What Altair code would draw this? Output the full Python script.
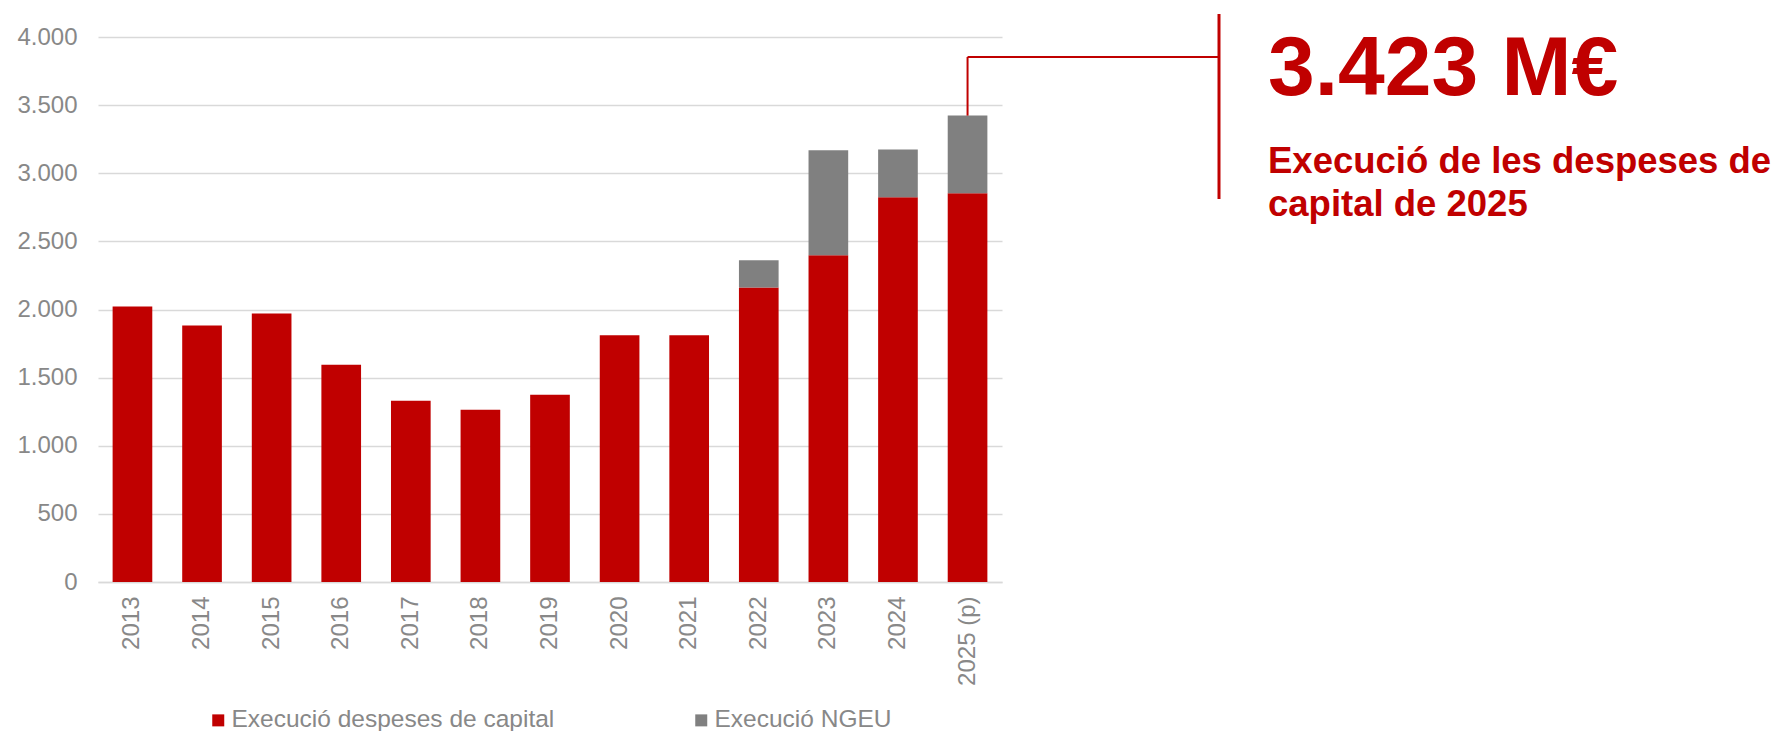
import altair as alt
import pandas as pd

years = ["2013", "2014", "2015", "2016", "2017", "2018", "2019",
         "2020", "2021", "2022", "2023", "2024", "2025 (p)"]
capital = [2022, 1883, 1971, 1594, 1330, 1264, 1374, 1811, 1811, 2161, 2399, 2824, 2854]
ngeu = [0, 0, 0, 0, 0, 0, 0, 0, 0, 200, 770, 350, 569]
series = ["Execució despeses de capital", "Execució NGEU"]
colors = ["#c00000", "#808080"]
y_ticks = [0, 500, 1000, 1500, 2000, 2500, 3000, 3500, 4000]
subtitle = ["Execució de les despeses de", "capital de 2025"]

rows = []
for y, c, n in zip(years, capital, ngeu):
    rows.append({"year": y, "series": series[0], "value": c, "ord": 0})
    if n > 0:
        rows.append({"year": y, "series": series[1], "value": n, "ord": 1})
df = pd.DataFrame(rows)

last_total = capital[-1] + ngeu[-1]
big_label = f"{last_total:,}".replace(",", ".") + " M€"
ann = pd.DataFrame({"year": [years[-1]], "total": [last_total]})
one = pd.DataFrame({"k": [0]})

FONT = "Liberation Sans"
RED = "#c00000"
GREY_TXT = "#888888"

x_enc = alt.X("year:N", sort=years,
              scale=alt.Scale(paddingInner=0.43, paddingOuter=0.21),
              axis=alt.Axis(title=None, labelAngle=-90, labelFontSize=24,
                            labelColor=GREY_TXT, labelPadding=14, ticks=False,
                            domainColor="#d9d9d9", domainWidth=1.5, grid=False))

bars = alt.Chart(df).mark_bar(strokeWidth=0).encode(
    x=x_enc,
    y=alt.Y("value:Q", stack="zero",
            scale=alt.Scale(domain=[0, 4000], nice=False),
            axis=alt.Axis(title=None, values=y_ticks, labelFontSize=24,
                          labelColor=GREY_TXT, labelPadding=21, ticks=False,
                          domain=False, gridColor="#d9d9d9", gridWidth=1.5,
                          labelExpr="replace(format(datum.value, ','), ',', '.')")),
    color=alt.Color("series:N",
                    scale=alt.Scale(domain=series, range=colors),
                    legend=alt.Legend(title=None, orient="none", direction="horizontal",
                                      legendX=108, legendY=671,
                                      symbolType="square", symbolSize=144,
                                      symbolStrokeWidth=0, labelFontSize=24.5,
                                      labelColor=GREY_TXT, labelOffset=1,
                                      labelLimit=500, columnPadding=134,
                                      padding=0)),
    order=alt.Order("ord:Q", sort="ascending"),
)

conn_v = alt.Chart(ann).mark_rule(color=RED, strokeWidth=2).encode(
    x=alt.X("year:N", sort=years),
    y=alt.Y("total:Q"),
    y2=alt.value(20),
)
conn_h = alt.Chart(ann).mark_rule(color=RED, strokeWidth=2).encode(
    x=alt.X("year:N", sort=years),
    x2=alt.value(1121),
    y=alt.value(20),
)
vbar = alt.Chart(one).mark_rule(color=RED, strokeWidth=3).encode(
    x=alt.value(1121),
    y=alt.value(-23),
    y2=alt.value(162),
)
big = alt.Chart(one).mark_text(
    text=big_label, font=FONT, fontSize=84, fontWeight="bold", color=RED,
    align="left", baseline="alphabetic"
).encode(x=alt.value(1170), y=alt.value(57.5))
sub = alt.Chart(one).mark_text(
    text=subtitle, font=FONT, fontSize=36.5, fontWeight="bold", color=RED,
    align="left", baseline="alphabetic", lineHeight=43
).encode(x=alt.value(1170), y=alt.value(135.5))

chart = alt.layer(bars, conn_v, conn_h, vbar, big, sub).properties(
    width=904, height=545,
    autosize=alt.AutoSizeParams(type="none"),
    padding={"left": 90, "top": 29, "right": 776, "bottom": 149},
).configure(font=FONT).configure_view(strokeWidth=0)

chart.save("out.html", embed_options={"renderer": "svg", "actions": False})
